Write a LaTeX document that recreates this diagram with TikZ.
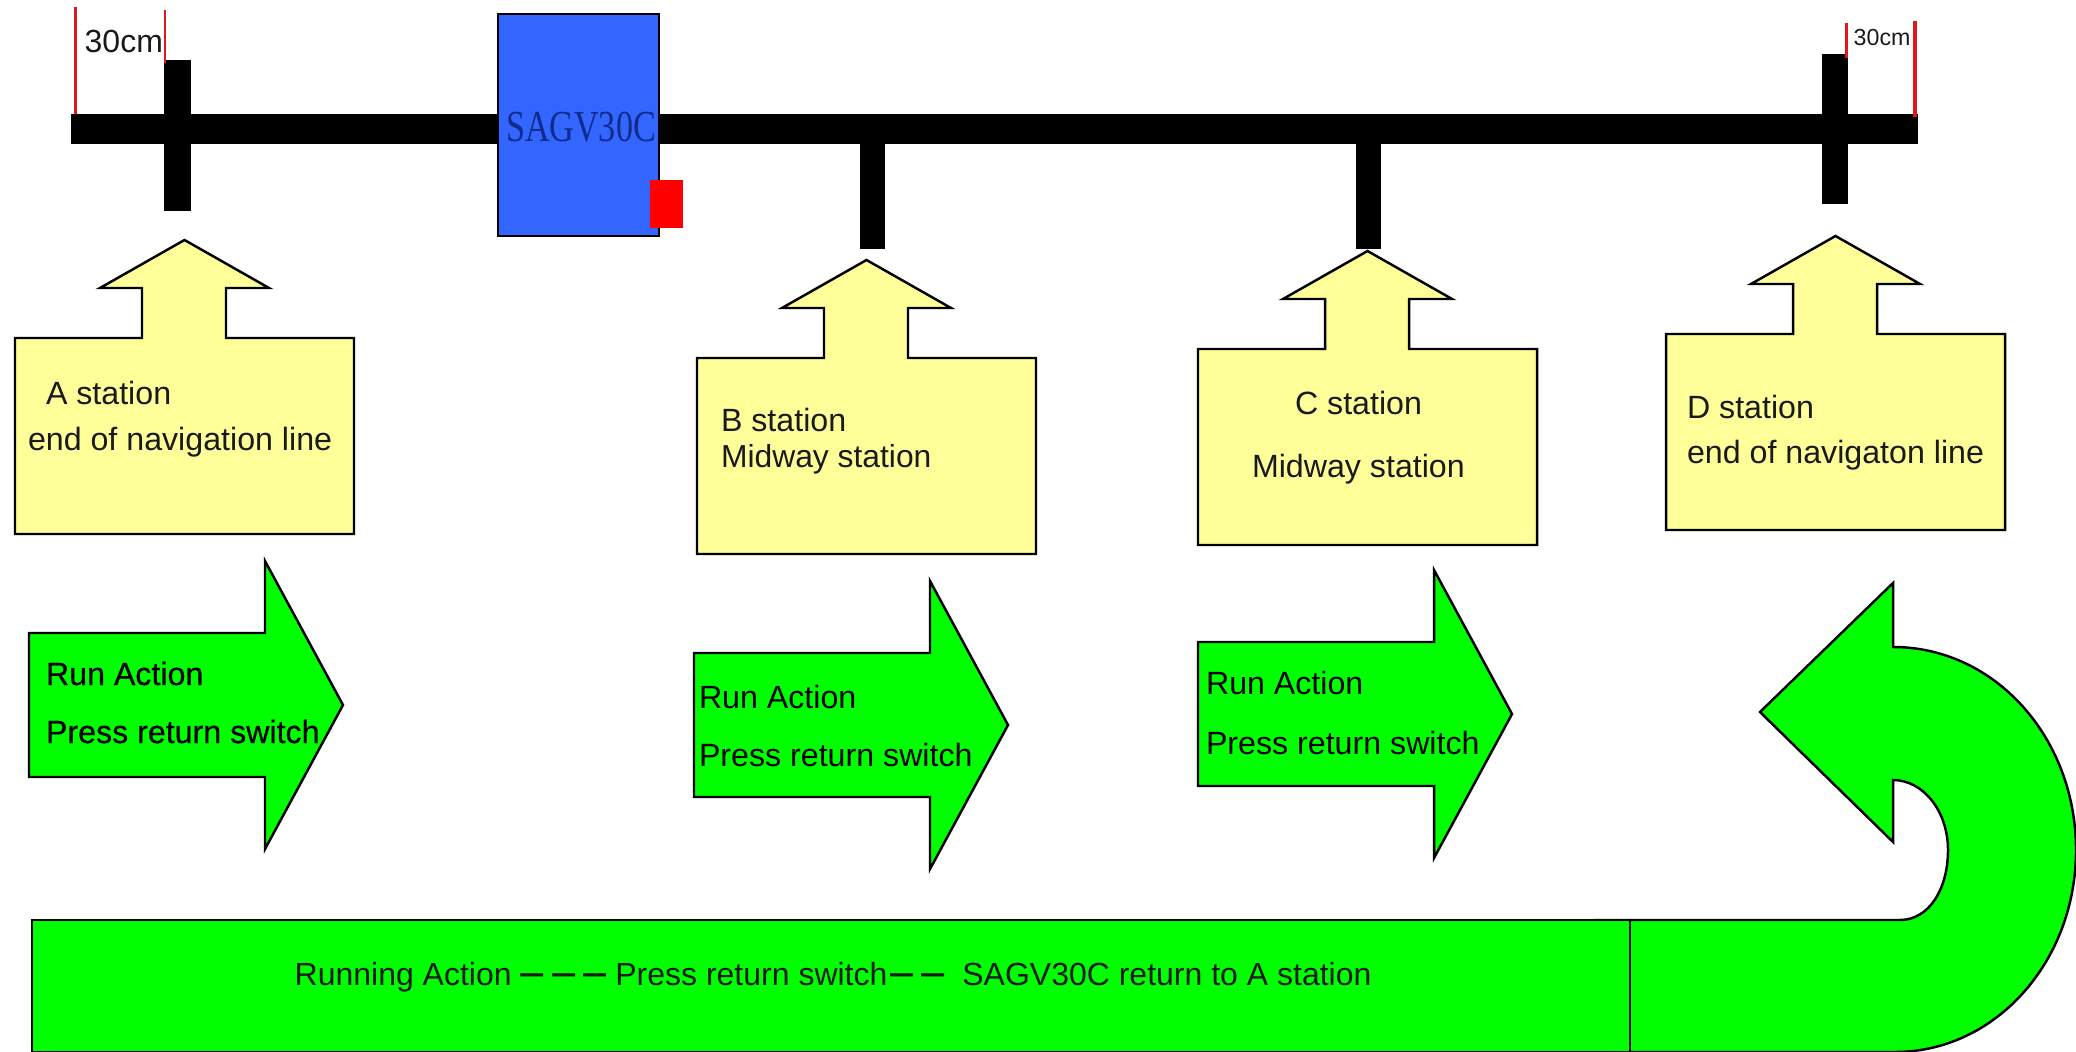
\documentclass[tikz,border=0pt]{standalone}
\usepackage{fontspec}
\setmainfont{Liberation Sans}
\newfontfamily\serifcond{Liberation Serif}
\newfontfamily\heavier[FakeBold=0.6]{Liberation Sans}
\definecolor{railblack}{HTML}{000000}
\definecolor{agvblue}{HTML}{3366FF}
\definecolor{agvtext}{HTML}{0F2C8C}
\definecolor{pale}{HTML}{FFFF99}
\definecolor{vivid}{HTML}{00FF00}
\definecolor{inktext}{HTML}{1A1A1A}
\definecolor{mark}{HTML}{E0181E}
\newcommand{\stationshape}[2]{%
  \begin{scope}[shift={(#1,#2)}]
    \draw[paleshape] (0,0) -- (127,0) -- (127,-50) -- (85,-50) -- (169.5,-98)
      -- (254,-50) -- (211,-50) -- (211,0) -- (339,0) -- (339,196) -- (0,196) -- cycle;
  \end{scope}}
\newcommand{\runarrow}[2]{%
  \begin{scope}[shift={(#1,#2)}]
    \draw[greenshape] (0,-72) -- (236,-72) -- (236,-144) -- (314,0)
      -- (236,144) -- (236,72) -- (0,72) -- cycle;
  \end{scope}}
\newcommand{\dsh}{\raisebox{-0.07em}{\scalebox{1.3}[1.5]{–}}\kern2.4pt}
\tikzset{
  paleshape/.style={draw=black,fill=pale,line width=0.7pt,line join=miter},
  greenshape/.style={draw=black,fill=vivid,line width=0.7pt,line join=miter},
  railpart/.style={fill=railblack,draw=none},
  redline/.style={draw=mark,line width=#1},
  lab/.style={anchor=base west,inner sep=0pt,outer sep=0pt,text=inktext,font=\fontsize{9.15pt}{11pt}\selectfont},
  runlab/.style={anchor=base west,inner sep=0pt,outer sep=0pt,text=black,font=\fontsize{9.15pt}{11pt}\selectfont},
}
\begin{document}
\begin{tikzpicture}[x=0.01cm,y=-0.01cm]
\useasboundingbox (0,0) rectangle (2076,1052);
% rail
\fill[railpart] (71,114) rectangle (1918,144);
\fill[railpart] (164,60) rectangle (191,211);
\fill[railpart] (860,130) rectangle (885,249);
\fill[railpart] (1356,130) rectangle (1381,249);
\fill[railpart] (1822,54) rectangle (1848,204);
% red marks
\draw[redline=0.7pt] (75.5,7) -- (75.5,114);
\draw[redline=0.7pt] (165,10) -- (165,63);
\draw[redline=1pt] (1846.5,23) -- (1846.5,58);
\draw[redline=1pt] (1915,21) -- (1915,117);
\node[anchor=base west,inner sep=0pt,text=inktext,font=\fontsize{9.1pt}{11pt}\selectfont] (dimleft) at (84,53) {30cm};
\node[anchor=base west,inner sep=0pt,text=inktext,font=\fontsize{6.6pt}{8pt}\selectfont] (dimright) at (1853,46) {30cm};
% vehicle
\draw[draw=black,fill=agvblue,line width=0.7pt] (498,14) rectangle (659,236);
\node[anchor=base,inner sep=0pt,text=agvtext] (agv) at (581,142) {\fontsize{12.6pt}{14pt}\serifcond\scalebox{.77}[1]{SAGV30C}};
\fill[red] (650,180) rectangle (683,228);
% station boxes
\stationshape{15}{338}
\stationshape{697}{358}
\stationshape{1198}{349}
\stationshape{1666}{334}
\node[lab] (a1) at (46,405) {A station};
\node[lab] (a2) at (28,451) {end of navigation line};
\node[lab] (b1) at (721,432) {B station};
\node[lab,font=\fontsize{9.05pt}{11pt}\selectfont] (b2) at (721,468) {Midway station};
\node[lab] (c1) at (1295,415) {C station};
\node[lab] (c2) at (1252,478) {Midway station};
\node[lab] (d1) at (1687,419) {D station};
\node[lab] (d2) at (1687,464) {end of navigaton line};
% run arrows
\runarrow{29}{705}
\runarrow{694}{725}
\runarrow{1198}{714}
\node[runlab] (ra1) at (46,685) {\heavier Run Action};
\node[runlab] (ra2) at (46,743) {\heavier Press return switch};
\node[runlab] (rb1) at (699,708) {Run Action};
\node[runlab] (rb2) at (699,766) {Press return switch};
\node[runlab] (rc1) at (1206,694) {Run Action};
\node[runlab] (rc2) at (1206,754) {Press return switch};
% return arrow
\draw[greenshape] (1595,920) -- (1900,920)
  .. controls (1929,920) and (1948,889) .. (1948,850)
  .. controls (1948,811) and (1923,780) .. (1893,780)
  -- (1893,842) -- (1760,712) -- (1893,583) -- (1893,647)
  .. controls (1995,647) and (2076,738) .. (2076,850)
  .. controls (2076,962) and (1995,1052) .. (1895,1052)
  -- (1595,1052) -- cycle;
\draw[greenshape] (32,920) rectangle (1630,1052);
\node[anchor=base west,inner sep=0pt,text=inktext,font=\fontsize{9.1pt}{11pt}\selectfont] (ret) at (294,985)
  {Running Action \dsh\dsh\dsh Press return switch\kern0.8pt\dsh\dsh\ SAGV30C return to A station};
\end{tikzpicture}
\end{document}
